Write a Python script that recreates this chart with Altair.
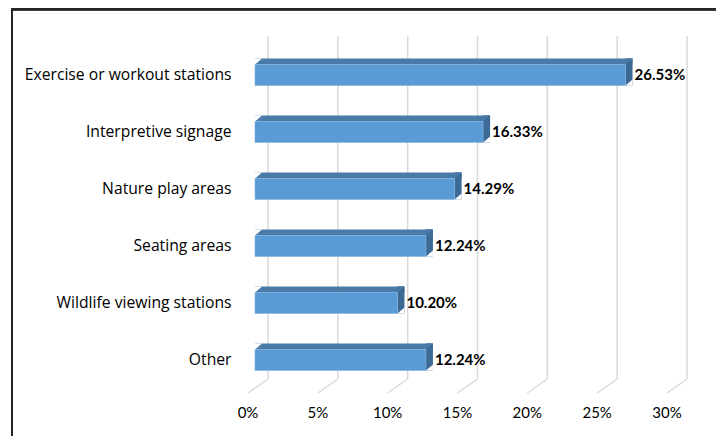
import altair as alt
import pandas as pd

categories = ["Exercise or workout stations", "Interpretive signage", "Nature play areas",
              "Seating areas", "Wildlife viewing stations", "Other"]
values = [26.53, 16.33, 14.29, 12.24, 10.20, 12.24]
ticks = [0, 5, 10, 15, 20, 25, 30]
tick_labels = ["0%", "5%", "10%", "15%", "20%", "25%", "30%"]

FRONT = "#5B9BD5"
TOP = "#4A7AA8"
SIDE = "#3C6A95"
GRID = "#D9D9D9"
FONT = "Lato"

bars = pd.DataFrame({"category": categories, "value": values})
tk = pd.DataFrame({"tick": ticks, "label": tick_labels})

W, H = 419, 363
xs = alt.Scale(domain=[0, 30], nice=False, zero=True)
ys = alt.Scale(domain=categories, paddingInner=0, paddingOuter=0.184)

yaxis = alt.Axis(title=None, domain=False, ticks=False, grid=False, labelPadding=24,
                 labelFont="Open Sans", labelFontSize=15.7, labelColor="#000000",
                 labelLimit=260)

X = alt.X("value:Q", scale=xs, axis=None)
Y = alt.Y("category:N", scale=ys, axis=yaxis, sort=categories)

grid = alt.Chart(tk).mark_rule(color=GRID, strokeWidth=1.5, xOffset=13).encode(
    x=alt.X("tick:Q", scale=xs, axis=None),
    y=alt.value(0), y2=alt.value(343))
floor = alt.Chart(tk).mark_rule(color=GRID, strokeWidth=1.5, xOffset=13, x2Offset=-7).encode(
    x=alt.X("tick:Q", scale=xs, axis=None), x2="tick:Q",
    y=alt.value(343), y2=alt.value(357))
tlabels = alt.Chart(tk).mark_text(font=FONT, fontSize=15, color="#000000", dx=-7,
                                  baseline="middle", align="center").encode(
    x=alt.X("tick:Q", scale=xs, axis=None), y=alt.value(377), text="label:N")

base = alt.Chart(bars)
top_face = base.mark_bar(color=TOP, size=6, yOffset=-13.5, xOffset=7, x2Offset=0).encode(
    x=X, x2=alt.datum(0), y=Y)
side_face = base.mark_bar(color=SIDE, size=27, yOffset=-3, xOffset=0, x2Offset=7).encode(
    x=X, x2="value:Q", y=Y)
front = base.mark_bar(color=FRONT, size=21, stroke="#7FB2E0", strokeWidth=0.6).encode(
    x=X, x2=alt.datum(0), y=Y)
TRI_TL = "M -1 -0.857 L 1 -0.857 L -1 0.857 Z"
TRI_BR = "M -1 0.857 L 1 0.857 L 1 -0.857 Z"
tl_white = base.mark_point(shape=TRI_TL, size=49, filled=True, color="white", opacity=1,
                           strokeWidth=0, xOffset=3.5, yOffset=-13.5).encode(
    x=alt.X("z:Q", scale=xs, axis=None), y=Y).transform_calculate(z="0")
tr_top = base.mark_point(shape=TRI_TL, size=49, filled=True, color=TOP, opacity=1,
                         strokeWidth=0, xOffset=3.5, yOffset=-13.5).encode(x=X, y=Y)
br_white = base.mark_point(shape=TRI_BR, size=49, filled=True, color="white", opacity=1,
                           strokeWidth=0, xOffset=3.5, yOffset=7.5).encode(x=X, y=Y)
vlabels = base.mark_text(font=FONT, fontSize=15, fontWeight="bold", color="#000000",
                         align="left", baseline="middle", dx=9).encode(
    x=X, y=Y, text="lbl:N").transform_calculate(lbl="format(datum.value, '.2f') + '%'")

frame_top = alt.Chart(tk).mark_rule(color="#262626", strokeWidth=2).encode(
    x=alt.value(-244), x2=alt.value(470), y=alt.value(-26.7))
frame_left = alt.Chart(tk).mark_rule(color="#262626", strokeWidth=2).encode(
    x=alt.value(-243), y=alt.value(-27.7), y2=alt.value(410))

chart = alt.layer(grid, floor, tlabels, top_face, side_face, front, tl_white, tr_top,
                  br_white, vlabels, frame_top, frame_left).properties(
    width=W, height=H,
    autosize=alt.AutoSizeParams(type="none"),
    padding={"left": 255, "top": 36, "right": 42, "bottom": 37},
    background="white",
).configure_view(stroke=None)

chart.save("out.html", embed_options={"renderer": "svg", "actions": False})
